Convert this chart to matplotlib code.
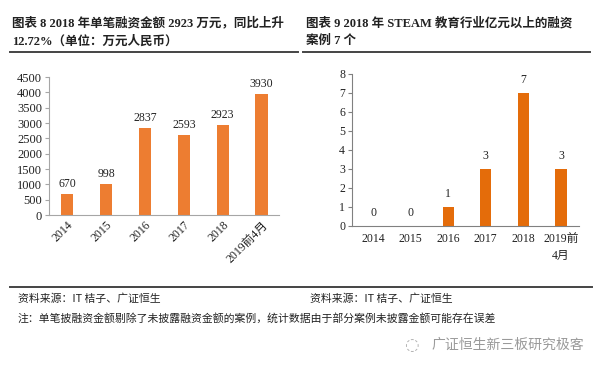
import matplotlib
matplotlib.use("Agg")
import matplotlib.pyplot as plt
from matplotlib.lines import Line2D

# ── data ────────────────────────────────────────────────────────────────
years_left = ["2014", "2015", "2016", "2017", "2018", "2019前4月"]
amount = [670, 998, 2837, 2593, 2923, 3930]
left_yticks = [0, 500, 1000, 1500, 2000, 2500, 3000, 3500, 4000, 4500]

years_right = ["2014", "2015", "2016", "2017", "2018", "2019前\n4月"]
cases = [0, 0, 1, 3, 7, 3]
right_yticks = [0, 1, 2, 3, 4, 5, 6, 7, 8]

title_left = "图表 8 2018 年单笔融资金额 2923 万元，同比上升\n12.72%（单位：万元人民币）"
title_right = "图表 9 2018 年 STEAM 教育行业亿元以上的融资\n案例 7 个"
source = "资料来源：IT 桔子、广证恒生"
note = "注：单笔披融资金额剔除了未披露融资金额的案例，统计数据由于部分案例未披露金额可能存在误差"
mark = "广证恒生新三板研究极客"

# ── style ───────────────────────────────────────────────────────────────
SERIF = ["Liberation Serif", "Noto Sans CJK SC"]
CJK = ["Noto Sans CJK SC", "DejaVu Sans"]
ORG_L = "#ED7D31"
ORG_R = "#E46C0A"
AXIS = "#A6A6A6"
TEXT = "#222222"

plt.rcParams["font.family"] = SERIF

fig = plt.figure(figsize=(6.0, 3.73), dpi=100)

# titles and rules
fig.text(0.02, 0.955, title_left, ha="left", va="top", fontsize=9,
         fontweight="bold", family=SERIF, color=TEXT, linespacing=1.6)
fig.text(0.51, 0.955, title_right, ha="left", va="top", fontsize=9,
         fontweight="bold", family=SERIF, color=TEXT, linespacing=1.6)
for x0, x1 in [(10, 298), (303, 590)]:
    fig.add_artist(Line2D([x0 / 600, x1 / 600], [1 - 52 / 373] * 2,
                          color="#444444", lw=1.4))
fig.add_artist(Line2D([10 / 600, 592 / 600], [1 - 287 / 373] * 2,
                      color="#444444", lw=1.4))

# ── left chart ──────────────────────────────────────────────────────────
ax1 = fig.add_axes([49 / 600, 1 - 215 / 373, 230 / 600, 138 / 373])
x = range(len(amount))
bars = ax1.bar(x, amount, width=0.31, color=ORG_L)
ax1.set_xlim(-0.47, 5.45)
ax1.set_ylim(0, 4500)
ax1.set_yticks(left_yticks)
ax1.tick_params(axis="y", labelsize=9, length=3, color=AXIS, pad=2, labelcolor=TEXT)
ax1.tick_params(axis="x", length=0, pad=3)
ax1.set_xticks(list(x))
ax1.set_xticklabels(years_left, rotation=45, ha="right", rotation_mode="anchor",
                    fontsize=8.5, color=TEXT)
for s in ["top", "right"]:
    ax1.spines[s].set_visible(False)
ax1.spines["left"].set_color(AXIS)
ax1.spines["bottom"].set_color(AXIS)
for b, v in zip(bars, amount):
    ax1.annotate(f"{v}", (b.get_x() + b.get_width() / 2, v), xytext=(0, 3),
                 textcoords="offset points", ha="center", va="bottom",
                 fontsize=8.5, color=TEXT)

# ── right chart ─────────────────────────────────────────────────────────
ax2 = fig.add_axes([352 / 600, 1 - 226 / 373, 227 / 600, 152 / 373])
x = range(len(cases))
bars = ax2.bar(x, cases, width=0.3, color=ORG_R)
ax2.set_xlim(-0.56, 5.48)
ax2.set_ylim(0, 8)
ax2.set_yticks(right_yticks)
ax2.tick_params(axis="y", labelsize=8.5, length=3, color="#808080", pad=2, labelcolor=TEXT)
ax2.tick_params(axis="x", length=0, pad=5)
ax2.set_xticks(list(x))
ax2.set_xticklabels(years_right, fontsize=8.5, color=TEXT, linespacing=1.6)
for s in ["top", "right"]:
    ax2.spines[s].set_visible(False)
ax2.spines["left"].set_color("#808080")
ax2.spines["bottom"].set_color("#808080")
for b, v in zip(bars, cases):
    ax2.annotate(f"{v}", (b.get_x() + b.get_width() / 2, v), xytext=(0, 5),
                 textcoords="offset points", ha="center", va="bottom",
                 fontsize=8.5, color=TEXT)

# ── footer ──────────────────────────────────────────────────────────────
fig.text(18 / 600, 1 - 299 / 373, source, ha="left", va="center",
         fontsize=7.8, family=CJK, color=TEXT)
fig.text(310 / 600, 1 - 299 / 373, source, ha="left", va="center",
         fontsize=7.8, family=CJK, color=TEXT)
fig.text(18 / 600, 1 - 318 / 373, note, ha="left", va="center",
         fontsize=7.8, family=CJK, color=TEXT)
fig.text(584 / 600, 1 - 345 / 373, mark, ha="right", va="center",
         fontsize=10, family=CJK, color="#9A9A9A")
fig.text(411 / 600, 1 - 345 / 373, "◌", ha="center", va="center",
         fontsize=12, family=["DejaVu Sans"], color="#B0B0B0")

fig.savefig("out.png", dpi=100, facecolor="white")
